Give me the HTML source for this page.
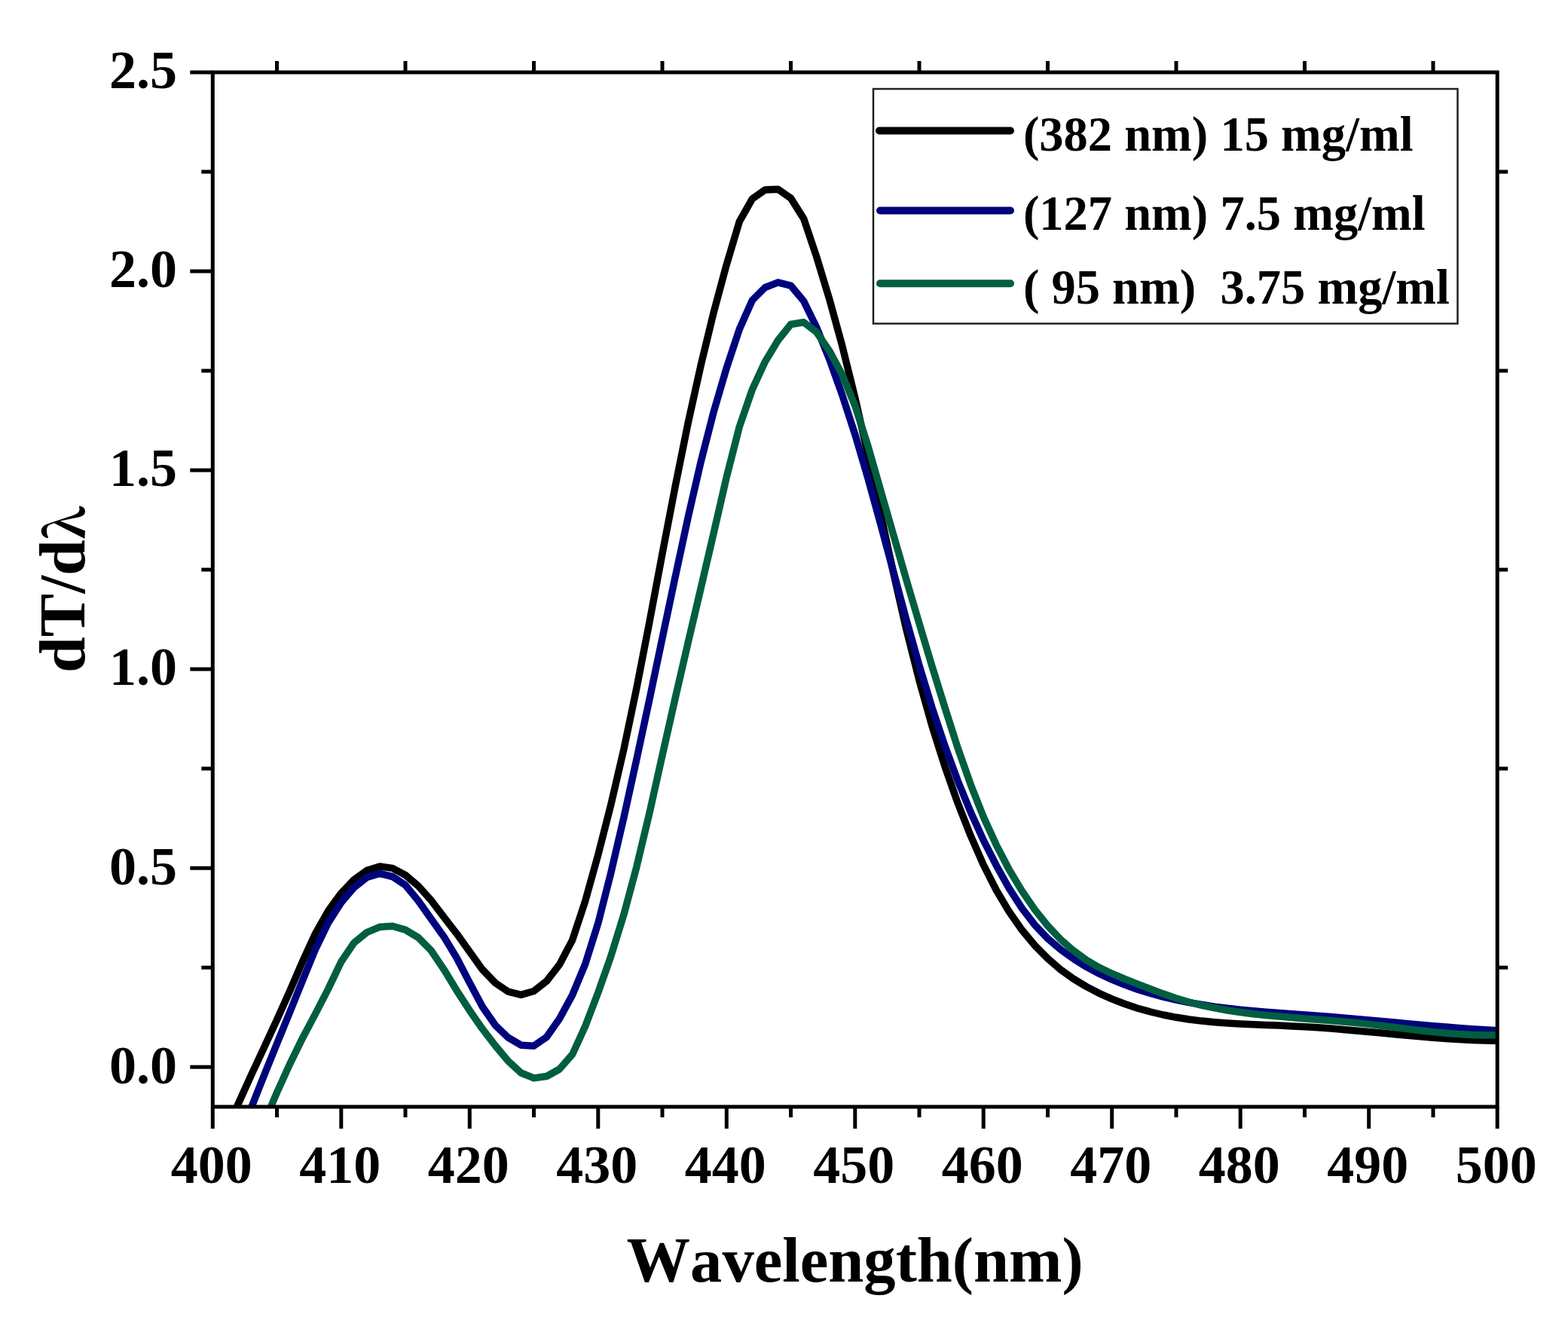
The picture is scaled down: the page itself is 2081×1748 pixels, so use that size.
<!DOCTYPE html>
<html><head><meta charset="utf-8"><title>dT/dλ vs Wavelength</title><style>
html,body{margin:0;padding:0;background:#fff;}
svg{display:block;}
text{font-family:"Liberation Serif","Times New Roman",serif;font-weight:bold;fill:#000;font-kerning:none;}
</style></head><body>
<svg width="2081" height="1748" viewBox="0 0 2081 1748">
<rect width="2081" height="1748" fill="#fff"/>
<defs><clipPath id="pc"><rect x="282.3" y="96" width="1704.9" height="1373"/></clipPath></defs>
<g clip-path="url(#pc)" fill="none" stroke-width="9.5" stroke-linejoin="round" stroke-linecap="round">
<path d="M299.3,1503.9 L316.4,1464.5 L333.4,1427.0 L350.5,1390.2 L367.5,1353.4 L384.6,1315.5 L401.6,1276.0 L418.7,1238.8 L435.7,1208.8 L452.8,1185.4 L469.8,1167.5 L486.9,1155.3 L503.9,1150.0 L521.0,1152.4 L538.0,1161.5 L555.1,1175.9 L572.1,1194.9 L589.2,1217.4 L606.2,1239.3 L623.3,1263.2 L640.3,1286.9 L657.4,1304.6 L674.4,1316.1 L691.5,1320.4 L708.5,1315.5 L725.6,1302.0 L742.6,1280.1 L759.7,1247.6 L776.7,1195.9 L793.8,1134.5 L810.8,1068.0 L827.9,994.5 L844.9,913.2 L862.0,825.4 L879.0,734.8 L896.1,645.8 L913.1,561.8 L930.2,484.6 L947.2,414.4 L964.3,351.1 L981.3,294.2 L998.4,263.9 L1015.4,251.9 L1032.5,251.2 L1049.5,263.0 L1066.6,290.1 L1083.6,340.5 L1100.7,396.8 L1117.7,458.8 L1134.8,527.9 L1151.8,603.4 L1168.8,682.6 L1185.9,761.3 L1202.9,835.6 L1220.0,903.2 L1237.0,963.7 L1254.1,1017.6 L1271.1,1065.8 L1288.2,1109.2 L1305.2,1147.9 L1322.3,1181.5 L1339.3,1210.1 L1356.4,1234.4 L1373.4,1254.9 L1390.5,1272.2 L1407.5,1286.8 L1424.6,1299.1 L1441.6,1309.4 L1458.7,1318.3 L1475.7,1325.9 L1492.8,1332.5 L1509.8,1338.2 L1526.9,1343.0 L1543.9,1347.0 L1561.0,1350.3 L1578.0,1353.0 L1595.1,1355.1 L1612.1,1356.7 L1629.2,1358.0 L1646.2,1359.0 L1663.3,1359.8 L1680.3,1360.5 L1697.4,1361.1 L1714.4,1361.9 L1731.5,1362.7 L1748.5,1363.8 L1765.6,1365.1 L1782.6,1366.4 L1799.7,1367.9 L1816.7,1369.5 L1833.8,1371.1 L1850.8,1372.7 L1867.9,1374.3 L1884.9,1375.8 L1902.0,1377.2 L1919.0,1378.5 L1936.1,1379.6 L1953.1,1380.5 L1970.2,1381.1 L1987.2,1381.5" stroke="#000"/>
<path d="M316.4,1515.4 L333.4,1470.4 L350.5,1427.3 L367.5,1385.2 L384.6,1343.5 L401.6,1301.3 L418.7,1259.6 L435.7,1224.7 L452.8,1198.0 L469.8,1177.9 L486.9,1164.4 L503.9,1159.5 L521.0,1163.5 L538.0,1174.8 L555.1,1195.5 L572.1,1219.6 L589.2,1243.4 L606.2,1271.5 L623.3,1304.4 L640.3,1336.3 L657.4,1360.8 L674.4,1377.2 L691.5,1387.2 L708.5,1388.2 L725.6,1376.3 L742.6,1352.1 L759.7,1320.4 L776.7,1279.6 L793.8,1225.3 L810.8,1158.5 L827.9,1085.2 L844.9,1007.7 L862.0,927.9 L879.0,846.9 L896.1,766.1 L913.1,686.9 L930.2,612.8 L947.2,546.5 L964.3,488.2 L981.3,437.0 L998.4,398.5 L1015.4,381.5 L1032.5,374.8 L1049.5,379.1 L1066.6,399.5 L1083.6,434.4 L1100.7,476.6 L1117.7,524.1 L1134.8,576.7 L1151.8,634.3 L1168.8,695.9 L1185.9,759.5 L1202.9,822.8 L1220.0,883.2 L1237.0,939.2 L1254.1,990.2 L1271.1,1036.2 L1288.2,1077.7 L1305.2,1115.1 L1322.3,1148.7 L1339.3,1179.2 L1356.4,1205.7 L1373.4,1227.7 L1390.5,1245.6 L1407.5,1260.2 L1424.6,1272.5 L1441.6,1283.1 L1458.7,1292.2 L1475.7,1300.2 L1492.8,1307.1 L1509.8,1313.2 L1526.9,1318.5 L1543.9,1323.1 L1561.0,1327.1 L1578.0,1330.6 L1595.1,1333.5 L1612.1,1336.1 L1629.2,1338.3 L1646.2,1340.1 L1663.3,1341.8 L1680.3,1343.2 L1697.4,1344.6 L1714.4,1345.8 L1731.5,1347.0 L1748.5,1348.2 L1765.6,1349.5 L1782.6,1351.0 L1799.7,1352.4 L1816.7,1354.0 L1833.8,1355.5 L1850.8,1357.1 L1867.9,1358.7 L1884.9,1360.2 L1902.0,1361.7 L1919.0,1363.1 L1936.1,1364.5 L1953.1,1365.7 L1970.2,1366.8 L1987.2,1367.7" stroke="#00047c"/>
<path d="M333.4,1531.0 L350.5,1490.1 L367.5,1450.1 L384.6,1412.4 L401.6,1377.7 L418.7,1345.4 L435.7,1312.4 L452.8,1276.5 L469.8,1251.4 L486.9,1237.5 L503.9,1230.3 L521.0,1229.2 L538.0,1234.1 L555.1,1244.4 L572.1,1261.5 L589.2,1286.8 L606.2,1314.8 L623.3,1341.2 L640.3,1365.7 L657.4,1387.9 L674.4,1408.2 L691.5,1424.0 L708.5,1430.9 L725.6,1428.5 L742.6,1419.0 L759.7,1399.4 L776.7,1362.1 L793.8,1317.4 L810.8,1269.1 L827.9,1213.9 L844.9,1150.4 L862.0,1078.9 L879.0,1002.6 L896.1,926.9 L913.1,853.2 L930.2,780.4 L947.2,707.3 L964.3,633.0 L981.3,566.5 L998.4,516.9 L1015.4,480.1 L1032.5,451.8 L1049.5,430.5 L1066.6,427.8 L1083.6,440.7 L1100.7,465.6 L1117.7,497.3 L1134.8,538.6 L1151.8,591.5 L1168.8,651.0 L1185.9,710.5 L1202.9,769.5 L1220.0,827.5 L1237.0,884.3 L1254.1,939.5 L1271.1,992.6 L1288.2,1041.2 L1305.2,1084.2 L1322.3,1121.6 L1339.3,1154.2 L1356.4,1182.6 L1373.4,1207.4 L1390.5,1228.7 L1407.5,1246.7 L1424.6,1261.7 L1441.6,1274.1 L1458.7,1284.0 L1475.7,1292.2 L1492.8,1299.4 L1509.8,1306.1 L1526.9,1312.6 L1543.9,1319.1 L1561.0,1325.0 L1578.0,1330.0 L1595.1,1334.3 L1612.1,1337.9 L1629.2,1341.0 L1646.2,1343.5 L1663.3,1345.7 L1680.3,1347.5 L1697.4,1349.1 L1714.4,1350.5 L1731.5,1351.9 L1748.5,1353.2 L1765.6,1354.5 L1782.6,1355.9 L1799.7,1357.5 L1816.7,1359.4 L1833.8,1361.4 L1850.8,1363.5 L1867.9,1365.6 L1884.9,1367.7 L1902.0,1369.6 L1919.0,1371.2 L1936.1,1372.5 L1953.1,1373.4 L1970.2,1373.9 L1987.2,1373.8" stroke="#025e40"/>
</g>
<g stroke="#000" stroke-width="5" stroke-linecap="butt">
<line x1="282.3" y1="1469" x2="282.3" y2="1498"/><line x1="452.8" y1="1469" x2="452.8" y2="1498"/><line x1="623.3" y1="1469" x2="623.3" y2="1498"/><line x1="793.8" y1="1469" x2="793.8" y2="1498"/><line x1="964.3" y1="1469" x2="964.3" y2="1498"/><line x1="1134.8" y1="1469" x2="1134.8" y2="1498"/><line x1="1305.2" y1="1469" x2="1305.2" y2="1498"/><line x1="1475.7" y1="1469" x2="1475.7" y2="1498"/><line x1="1646.2" y1="1469" x2="1646.2" y2="1498"/><line x1="1816.7" y1="1469" x2="1816.7" y2="1498"/><line x1="1987.2" y1="1469" x2="1987.2" y2="1498"/><line x1="367.5" y1="1469" x2="367.5" y2="1483"/><line x1="367.5" y1="96" x2="367.5" y2="81"/><line x1="538.0" y1="1469" x2="538.0" y2="1483"/><line x1="538.0" y1="96" x2="538.0" y2="81"/><line x1="708.5" y1="1469" x2="708.5" y2="1483"/><line x1="708.5" y1="96" x2="708.5" y2="81"/><line x1="879.0" y1="1469" x2="879.0" y2="1483"/><line x1="879.0" y1="96" x2="879.0" y2="81"/><line x1="1049.5" y1="1469" x2="1049.5" y2="1483"/><line x1="1049.5" y1="96" x2="1049.5" y2="81"/><line x1="1220.0" y1="1469" x2="1220.0" y2="1483"/><line x1="1220.0" y1="96" x2="1220.0" y2="81"/><line x1="1390.5" y1="1469" x2="1390.5" y2="1483"/><line x1="1390.5" y1="96" x2="1390.5" y2="81"/><line x1="1561.0" y1="1469" x2="1561.0" y2="1483"/><line x1="1561.0" y1="96" x2="1561.0" y2="81"/><line x1="1731.5" y1="1469" x2="1731.5" y2="1483"/><line x1="1731.5" y1="96" x2="1731.5" y2="81"/><line x1="1902.0" y1="1469" x2="1902.0" y2="1483"/><line x1="1902.0" y1="96" x2="1902.0" y2="81"/><line x1="282.3" y1="1416.2" x2="252.3" y2="1416.2"/><line x1="282.3" y1="1152.2" x2="252.3" y2="1152.2"/><line x1="282.3" y1="888.1" x2="252.3" y2="888.1"/><line x1="282.3" y1="624.1" x2="252.3" y2="624.1"/><line x1="282.3" y1="360.0" x2="252.3" y2="360.0"/><line x1="282.3" y1="96.0" x2="252.3" y2="96.0"/><line x1="282.3" y1="1284.2" x2="267.3" y2="1284.2"/><line x1="1987.2" y1="1284.2" x2="2001.2" y2="1284.2"/><line x1="282.3" y1="1020.1" x2="267.3" y2="1020.1"/><line x1="1987.2" y1="1020.1" x2="2001.2" y2="1020.1"/><line x1="282.3" y1="756.1" x2="267.3" y2="756.1"/><line x1="1987.2" y1="756.1" x2="2001.2" y2="756.1"/><line x1="282.3" y1="492.1" x2="267.3" y2="492.1"/><line x1="1987.2" y1="492.1" x2="2001.2" y2="492.1"/><line x1="282.3" y1="228.0" x2="267.3" y2="228.0"/><line x1="1987.2" y1="228.0" x2="2001.2" y2="228.0"/>
</g>
<rect x="282.3" y="96" width="1704.9" height="1373" fill="none" stroke="#000" stroke-width="5"/>
<g font-size="72" text-anchor="middle">
<text x="280.8" y="1570">400</text><text x="451.3" y="1570">410</text><text x="621.8" y="1570">420</text><text x="792.3" y="1570">430</text><text x="962.8" y="1570">440</text><text x="1133.2" y="1570">450</text><text x="1303.7" y="1570">460</text><text x="1474.2" y="1570">470</text><text x="1644.7" y="1570">480</text><text x="1815.2" y="1570">490</text><text x="1985.7" y="1570">500</text>
</g>
<g font-size="72" text-anchor="end">
<text x="235" y="1437.5">0.0</text><text x="235" y="1173.5">0.5</text><text x="235" y="909.4">1.0</text><text x="235" y="645.4">1.5</text><text x="235" y="381.3">2.0</text><text x="235" y="117.3">2.5</text>
</g>
<rect x="1159" y="118" width="775.5" height="311.5" fill="#fff" stroke="#222" stroke-width="2.5"/>
<g stroke-width="10" stroke-linecap="round">
<line x1="1167" y1="173.5" x2="1341" y2="173.5" stroke="#000"/>
<line x1="1168" y1="279.5" x2="1341" y2="279.5" stroke="#00047c"/>
<line x1="1168" y1="376.3" x2="1341" y2="376.3" stroke="#025e40"/>
</g>
<g font-size="64.5">
<text x="1357.9" y="199.5" xml:space="preserve">(382 nm) 15 mg/ml</text>
<text x="1357.9" y="305.2" xml:space="preserve">(127 nm) 7.5 mg/ml</text>
<text x="1357.9" y="402.8" xml:space="preserve">( 95 nm)  3.75 mg/ml</text>
</g>
<text x="831.5" y="1701" font-size="84.6">Wavelength(nm)</text>
<text transform="translate(111.8,893) rotate(-90)" font-size="86">dT/d<tspan font-family="&quot;Noto Serif CJK SC&quot;, serif" font-size="70">λ</tspan></text>
</svg>
</body></html>
